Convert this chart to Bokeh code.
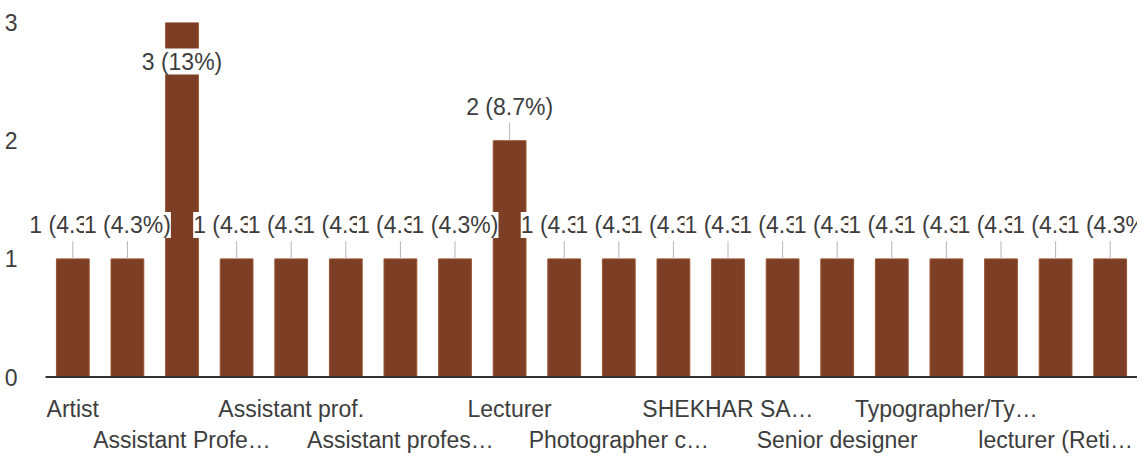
from bokeh.plotting import figure
from bokeh.models import ColumnDataSource, LinearAxis, FixedTicker, Range1d, LabelSet
from bokeh.core.properties import value
from bokeh.embed import file_html
from bokeh.resources import INLINE

# ---- data ----
counts = [1, 1, 3, 1, 1, 1, 1, 1, 2, 1, 1, 1, 1, 1, 1, 1, 1, 1, 1, 1]
tick_labels = ["Artist", "Assistant Profe\u2026", "Assistant prof.", "Assistant profes\u2026",
               "Lecturer", "Photographer c\u2026", "SHEKHAR SA\u2026", "Senior designer",
               "Typographer/Ty\u2026", "lecturer (Reti\u2026"]
tick_positions = [0, 2, 4, 6, 8, 10, 12, 14, 16, 18]
y_ticks = [0, 1, 2, 3]

FONT = "Liberation Sans"
TXT = "#3d3d3d"
BAR = "#7c3f26"
FS = "23px"

total = sum(counts)
n = len(counts)
xs = list(range(n))
ymax = max(y_ticks)
labels = [f"{c} ({c / total * 100:.2g}%)" for c in counts]
lab_off = [-39 if c >= ymax else 34 for c in counts]

src = ColumnDataSource(dict(x=xs, top=counts, label=labels, yoff=lab_off))
lead_x = [x for x, c in zip(xs, counts) if c < ymax]
lead_y0 = [c for c in counts if c < ymax]
lead_y1 = [c + 0.15 for c in counts if c < ymax]
lead = ColumnDataSource(dict(x=lead_x, y0=lead_y0, y1=lead_y1))

# frame extends a little left of the baseline so the first data label is not clipped
p = figure(frame_width=1107, frame_height=356,
           x_range=Range1d(-0.775, n - 0.5),
           y_range=Range1d(-0.012, ymax), x_axis_type=None,
           output_backend="svg", toolbar_location=None,
           min_border_left=30, min_border_top=22, min_border_right=0, min_border_bottom=0)
p.outline_line_color = None
p.background_fill_color = "white"
p.border_fill_color = "white"
p.grid.visible = False

p.vbar(x="x", top="top", width=0.6, bottom=0, source=src,
       fill_color=BAR, line_color="#9a5430", line_width=1)
p.segment(x0=-0.5, y0=0, x1=n - 0.5, y1=0, line_color="#333333", line_width=2)
p.segment(x0="x", y0="y0", x1="x", y1="y1", source=lead, line_color="#b5b5b5", line_width=1)
p.add_layout(LabelSet(x="x", y="top", text="label", y_offset="yoff", source=src,
                      text_align="center", text_baseline="middle",
                      text_font=value(FONT), text_font_size=FS, text_color=TXT,
                      background_fill_color="white"))

# y axis
ya = p.yaxis[0]
ya.ticker = FixedTicker(ticks=y_ticks)
ya.axis_line_color = None
ya.major_tick_line_color = None
ya.minor_tick_line_color = None
ya.major_label_standoff = 7
ya.major_label_text_font = FONT
ya.major_label_text_font_size = FS
ya.major_label_text_color = TXT

row1 = tick_positions[0::2]
row2 = tick_positions[1::2]
ov = {pos: lab for pos, lab in zip(tick_positions, tick_labels)}

ax1 = LinearAxis(ticker=FixedTicker(ticks=row1),
                 major_label_overrides={k: ov[k] for k in row1})
ax2 = LinearAxis(ticker=FixedTicker(ticks=row2),
                 major_label_overrides={k: ov[k] for k in row2})
for ax, sd in ((ax1, 11), (ax2, -4)):
    ax.major_tick_line_color = None
    ax.minor_tick_line_color = None
    ax.major_label_standoff = sd
    ax.major_label_text_font = FONT
    ax.major_label_text_font_size = FS
    ax.major_label_text_color = TXT
    ax.axis_line_color = None
p.add_layout(ax1, "below")
p.add_layout(ax2, "below")

open("out.html", "w").write(file_html(p, INLINE))
